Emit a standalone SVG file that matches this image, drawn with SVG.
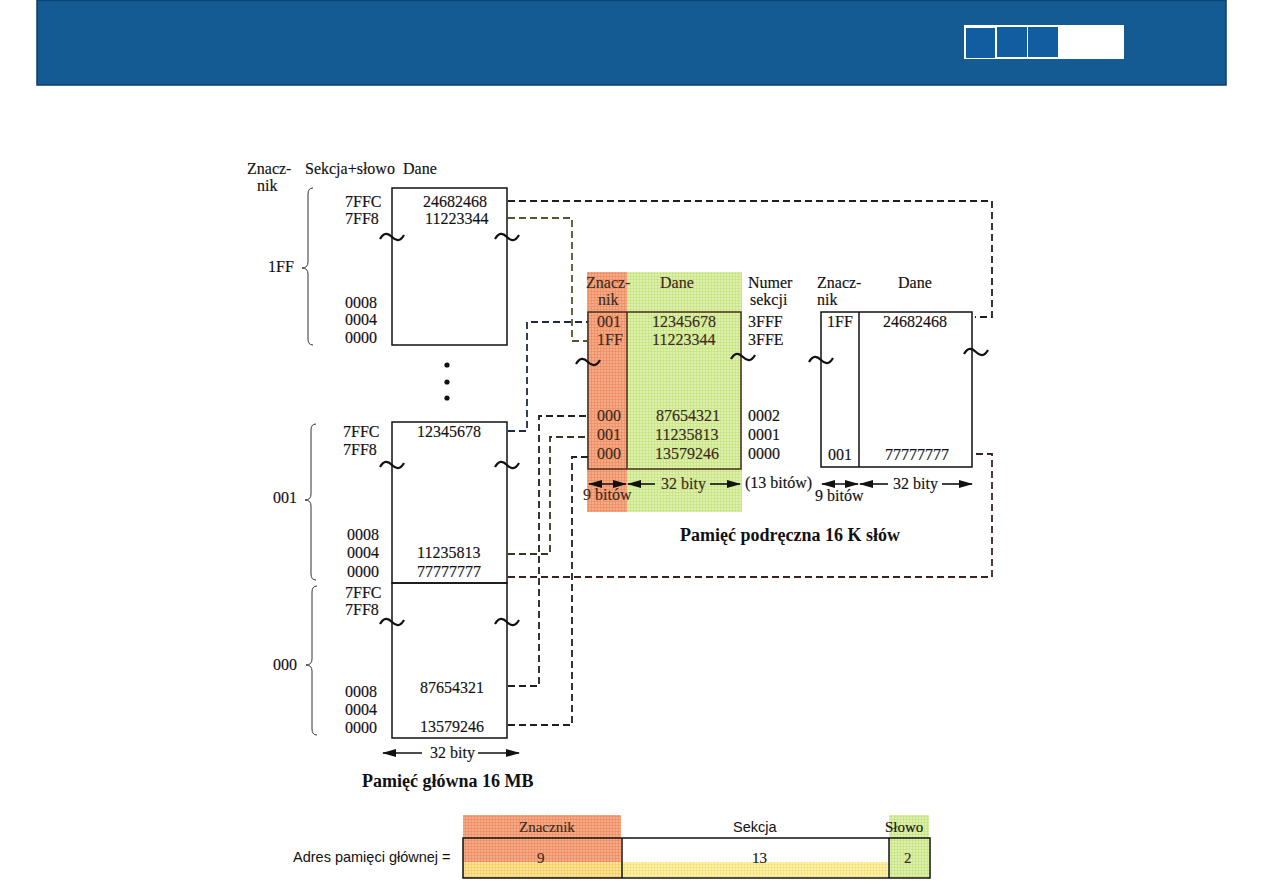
<svg xmlns="http://www.w3.org/2000/svg" xmlns:xlink="http://www.w3.org/1999/xlink" width="1263" height="893" viewBox="0 0 1263 893">
<style>
  .t{font-family:"Liberation Serif","DejaVu Serif",serif;font-size:16px;fill:#111;stroke:#111;stroke-width:0.15}
  .c{font-family:"Liberation Serif","DejaVu Serif",serif;font-size:16px;fill:#3b2a1c;stroke:#3b2a1c;stroke-width:0.15}
  .b{font-family:"Liberation Serif","DejaVu Serif",serif;font-size:18px;font-weight:bold;fill:#111}
  .s{font-family:"Liberation Sans","Arial",sans-serif;font-size:14.5px;fill:#111}
  .box{fill:none;stroke:#111;stroke-width:1.5}
  .ln{stroke:#111;stroke-width:1.5;fill:none}
  .br{fill:none;stroke:#333;stroke-width:1}
  .tl{fill:none;stroke:#111;stroke-width:2.2}
  .dash{fill:none;stroke:#1e1e26;stroke-width:1.8;stroke-dasharray:7 4}
  .ar{stroke:#111;stroke-width:1.6}
</style>
<defs>
  <pattern id="po" width="3" height="3" patternUnits="userSpaceOnUse">
    <rect width="3" height="3" fill="#f6ab88"/>
    <path d="M0,0.5H3M0.5,0V3" stroke="#ee8a5e" stroke-width="0.7"/>
  </pattern>
  <pattern id="pg" width="3" height="3" patternUnits="userSpaceOnUse">
    <rect width="3" height="3" fill="#def0ad"/>
    <path d="M0,0.5H3M0.5,0V3" stroke="#c4e27e" stroke-width="0.7"/>
  </pattern>
  <pattern id="py" width="3" height="3" patternUnits="userSpaceOnUse">
    <rect width="3" height="3" fill="#fcee9c"/>
    <path d="M0,0.5H3M0.5,0V3" stroke="#f4d95a" stroke-width="0.7"/>
  </pattern>
  <path id="tilde" d="M-12,2 C-8,-5 -4,-4 0,0 C4,4 8,5 12,-2"/>
  <marker id="ah" viewBox="0 0 14 8" refX="13" refY="4" markerWidth="14" markerHeight="8" markerUnits="userSpaceOnUse" orient="auto-start-reverse">
    <path d="M0,0 L14,4 L0,8 z" fill="#111"/>
  </marker>
</defs>

<!-- header -->
<g id="header">
  <rect x="37" y="0" width="1189" height="85" fill="#135b92" stroke="#0c3c68" stroke-width="1.5"/>
  <rect x="964" y="25" width="160" height="34" fill="#ffffff"/>
  <rect x="966" y="28" width="29" height="30" fill="#125ca0"/>
  <rect x="997" y="27" width="30" height="30" fill="#125ca0"/>
  <rect x="1028" y="27" width="30" height="30" fill="#125ca0"/>
</g>

<!-- main memory -->
<g id="main-memory-headers">
  <text class="t" x="247" y="174">Znacz-</text>
  <text class="t" x="257" y="191">nik</text>
  <text class="t" x="305" y="174">Sekcja+słowo</text>
  <text class="t" x="403" y="174">Dane</text>
</g>

<g id="block-1FF">
  <rect class="box" x="392" y="188" width="115" height="157"/>
  <text class="t" x="345" y="207">7FFC</text>
  <text class="t" x="345" y="224">7FF8</text>
  <text class="t" x="423" y="207">24682468</text>
  <text class="t" x="425" y="224">11223344</text>
  <use href="#tilde" class="tl" x="392" y="237"/>
  <use href="#tilde" class="tl" x="507" y="237"/>
  <text class="t" x="345" y="308">0008</text>
  <text class="t" x="345" y="325">0004</text>
  <text class="t" x="345" y="343">0000</text>
  <path class="br" d="M313,188 Q308,188 308,194 L308,262 Q308,268 302,268 Q308,268 308,274 L308,339 Q308,345 313,345"/>
  <text class="t" x="268" y="272">1FF</text>
</g>

<g id="dots">
  <circle cx="447" cy="365" r="2.6" fill="#111"/>
  <circle cx="447" cy="382" r="2.6" fill="#111"/>
  <circle cx="447" cy="398" r="2.6" fill="#111"/>
</g>

<g id="block-001">
  <rect class="box" x="392" y="422" width="115" height="161"/>
  <text class="t" x="343" y="437">7FFC</text>
  <text class="t" x="343" y="455">7FF8</text>
  <text class="t" x="417" y="437">12345678</text>
  <use href="#tilde" class="tl" x="392" y="465"/>
  <use href="#tilde" class="tl" x="507" y="465"/>
  <text class="t" x="347" y="540">0008</text>
  <text class="t" x="347" y="558">0004</text>
  <text class="t" x="347" y="577">0000</text>
  <text class="t" x="417" y="558">11235813</text>
  <text class="t" x="417" y="577">77777777</text>
  <path class="br" d="M316,424 Q311,424 311,430 L311,494 Q311,500 305,500 Q311,500 311,506 L311,574 Q311,580 316,580"/>
  <text class="t" x="273" y="503">001</text>
</g>

<g id="block-000">
  <rect class="box" x="392" y="583" width="115" height="155"/>
  <text class="t" x="345" y="598">7FFC</text>
  <text class="t" x="345" y="615">7FF8</text>
  <use href="#tilde" class="tl" x="392" y="622"/>
  <use href="#tilde" class="tl" x="507" y="622"/>
  <text class="t" x="345" y="697">0008</text>
  <text class="t" x="345" y="715">0004</text>
  <text class="t" x="345" y="733">0000</text>
  <text class="t" x="420" y="693">87654321</text>
  <text class="t" x="420" y="732">13579246</text>
  <path class="br" d="M317,586 Q312,586 312,592 L312,659 Q312,665 306,665 Q312,665 312,671 L312,729 Q312,735 317,735"/>
  <text class="t" x="273" y="670">000</text>
</g>

<g id="main-memory-caption">
  <line class="ar" x1="422" y1="753" x2="383" y2="753" marker-end="url(#ah)"/>
  <text class="t" x="430" y="758">32 bity</text>
  <line class="ar" x1="478" y1="753" x2="519" y2="753" marker-end="url(#ah)"/>
  <text class="b" x="362" y="787">Pamięć główna 16 MB</text>
</g>

<!-- cache memory -->
<g id="cache">
  <rect x="587" y="272" width="40" height="240" fill="url(#po)"/>
  <rect x="627" y="272" width="115" height="240" fill="url(#pg)"/>
  <rect x="588" y="312" width="153" height="157" fill="none" stroke="#4a2e1e" stroke-width="1.5"/>
  <line x1="627" y1="312" x2="627" y2="469" stroke="#4a2e1e" stroke-width="1.5"/>
  <text class="c" x="586" y="288">Znacz-</text>
  <text class="c" x="598" y="305">nik</text>
  <text class="c" x="660" y="288">Dane</text>
  <text class="t" x="748" y="288">Numer</text>
  <text class="t" x="750" y="305">sekcji</text>
  <text class="c" x="597" y="327">001</text>
  <text class="c" x="652" y="327">12345678</text>
  <text class="t" x="748" y="327">3FFF</text>
  <text class="c" x="597" y="345">1FF</text>
  <text class="c" x="652" y="345">11223344</text>
  <text class="t" x="748" y="345">3FFE</text>
  <use href="#tilde" class="tl" x="588" y="362"/>
  <use href="#tilde" class="tl" x="743" y="357"/>
  <text class="c" x="597" y="421">000</text>
  <text class="c" x="656" y="421">87654321</text>
  <text class="t" x="748" y="421">0002</text>
  <text class="c" x="597" y="440">001</text>
  <text class="c" x="655" y="440">11235813</text>
  <text class="t" x="748" y="440">0001</text>
  <text class="c" x="597" y="459">000</text>
  <text class="c" x="655" y="459">13579246</text>
  <text class="t" x="748" y="459">0000</text>
  <line class="ar" x1="589" y1="484" x2="626" y2="484" marker-start="url(#ah)" marker-end="url(#ah)"/>
  <line class="ar" x1="655" y1="484" x2="628" y2="484" marker-end="url(#ah)"/>
  <text class="c" x="661" y="489">32 bity</text>
  <line class="ar" x1="710" y1="484" x2="740" y2="484" marker-end="url(#ah)"/>
  <text class="c" x="583" y="500">9 bitów</text>
  <text class="t" x="745" y="488">(13 bitów)</text>
  <text class="b" x="680" y="541">Pamięć podręczna 16 K słów</text>
</g>

<g id="cache-2">
  <rect class="box" x="821" y="312" width="151" height="155"/>
  <line class="ln" x1="859" y1="312" x2="859" y2="467"/>
  <text class="t" x="817" y="288">Znacz-</text>
  <text class="t" x="817" y="305">nik</text>
  <text class="t" x="898" y="288">Dane</text>
  <text class="t" x="827" y="327">1FF</text>
  <text class="t" x="883" y="327">24682468</text>
  <text class="t" x="828" y="460">001</text>
  <text class="t" x="885" y="460">77777777</text>
  <use href="#tilde" class="tl" x="821" y="360"/>
  <use href="#tilde" class="tl" x="976" y="352"/>
  <line class="ar" x1="822" y1="484" x2="858" y2="484" marker-start="url(#ah)" marker-end="url(#ah)"/>
  <line class="ar" x1="888" y1="484" x2="860" y2="484" marker-end="url(#ah)"/>
  <text class="t" x="893" y="489">32 bity</text>
  <line class="ar" x1="942" y1="484" x2="972" y2="484" marker-end="url(#ah)"/>
  <text class="t" x="815" y="501">9 bitów</text>
</g>

<!-- connectors -->
<g id="connectors">
  <path class="dash" d="M508,201 H992 V317 H975"/>
  <path class="dash" style="stroke:#55552a" d="M508,218 H572 V341 H588"/>
  <path class="dash" style="stroke:#1e2a44" d="M508,431 H527 V322 H588"/>
  <path class="dash" style="stroke:#3b3320" d="M508,554 H550 V437 H588"/>
  <path class="dash" style="stroke:#3a2222" d="M508,577 H992 V454 H975"/>
  <path class="dash" d="M508,686 H539 V416 H588"/>
  <path class="dash" d="M508,725 H572 V457 H588"/>
</g>

<!-- address format -->
<g id="address">
  <rect x="463" y="815" width="158" height="63" fill="url(#po)"/>
  <rect x="889" y="815" width="40" height="63" fill="url(#pg)"/>
  <rect x="463" y="862" width="425" height="15" fill="url(#py)" opacity="0.85"/>
  <rect x="463" y="838" width="467" height="40" fill="none" stroke="#111" stroke-width="1.5"/>
  <line class="ln" x1="622" y1="838" x2="622" y2="878"/>
  <line class="ln" x1="889" y1="838" x2="889" y2="878"/>
  <text class="s" x="293" y="862">Adres pamięci głównej =</text>
  <text class="c" x="519" y="832" style="font-size:15px">Znacznik</text>
  <text class="s" x="733" y="832">Sekcja</text>
  <text class="t" x="885" y="832" style="font-size:15px">Słowo</text>
  <text class="c" x="537" y="863" style="font-size:15px">9</text>
  <text class="t" x="752" y="863" style="font-size:15px">13</text>
  <text class="c" x="904" y="863" style="font-size:15px">2</text>
</g>
</svg>
